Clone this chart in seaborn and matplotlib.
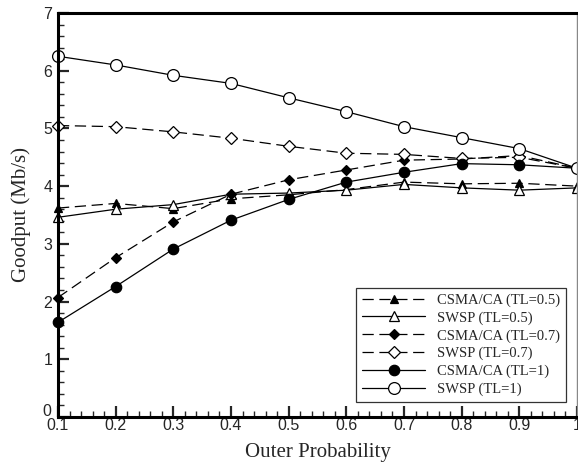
import numpy as np
import pandas as pd
import seaborn as sns
import matplotlib
matplotlib.use("Agg")
import matplotlib.pyplot as plt
from matplotlib.ticker import MultipleLocator, FormatStrFormatter
from matplotlib.transforms import ScaledTranslation

sns.set_style("ticks")

outer_prob = [0.1, 0.2, 0.3, 0.4, 0.5, 0.6, 0.7, 0.8, 0.9, 1.0]
csma_05 = [3.62, 3.70, 3.61, 3.78, 3.85, 3.94, 4.07, 4.04, 4.05, 4.00]
swsp_05 = [3.46, 3.60, 3.68, 3.86, 3.88, 3.93, 4.03, 3.97, 3.93, 3.97]
csma_07 = [2.07, 2.76, 3.38, 3.86, 4.11, 4.28, 4.45, 4.47, 4.53, 4.31]
swsp_07 = [5.05, 5.03, 4.94, 4.83, 4.69, 4.57, 4.55, 4.48, 4.50, 4.31]
csma_1 = [1.64, 2.26, 2.91, 3.41, 3.77, 4.07, 4.24, 4.39, 4.37, 4.31]
swsp_1 = [6.25, 6.10, 5.92, 5.78, 5.53, 5.29, 5.03, 4.84, 4.65, 4.31]

labels = ["CSMA/CA (TL=0.5)", "SWSP (TL=0.5)", "CSMA/CA (TL=0.7)",
          "SWSP (TL=0.7)", "CSMA/CA (TL=1)", "SWSP (TL=1)"]
series = [csma_05, swsp_05, csma_07, swsp_07, csma_1, swsp_1]

dash = (0, (9, 4.5))
styles = [
    dict(marker="^", ls=dash, mfc="black", ms=6),
    dict(marker="^", ls="-", mfc="white", ms=7),
    dict(marker="D", ls=dash, mfc="black", ms=5),
    dict(marker="D", ls=dash, mfc="white", ms=6),
    dict(marker="o", ls="-", mfc="black", ms=7.5),
    dict(marker="o", ls="-", mfc="white", ms=8.5),
]

fig = plt.figure(figsize=(5.78, 4.69), dpi=100)
ax = fig.add_axes([0.1003, 0.1109, 0.8980, 0.8614])

for lab, vals, st in zip(labels, series, styles):
    df = pd.DataFrame({"x": outer_prob, "y": vals})
    sns.lineplot(data=df, x="x", y="y", ax=ax, color="black", lw=0.9,
                 linestyle=st["ls"], marker=st["marker"], markersize=st["ms"],
                 markerfacecolor=st["mfc"], markeredgecolor="black",
                 markeredgewidth=0.9, label=lab, clip_on=False)

ax.set_xlim(0.1, 1.0)
ax.set_ylim(0, 7)
ax.xaxis.set_major_locator(MultipleLocator(0.1))
ax.xaxis.set_minor_locator(MultipleLocator(0.02))
ax.yaxis.set_major_locator(MultipleLocator(1))
ax.yaxis.set_minor_locator(MultipleLocator(0.2))

def xfmt(v, pos):
    if abs(v - 1.0) < 1e-9:
        return "1"
    return f"{v:.1f}"
ax.xaxis.set_major_formatter(matplotlib.ticker.FuncFormatter(xfmt))
ax.yaxis.set_major_formatter(FormatStrFormatter("%d"))

for s in ["left", "bottom", "top"]:
    ax.spines[s].set_linewidth(2.2)
    ax.spines[s].set_color("black")
ax.spines["right"].set_linewidth(1.0)
ax.spines["right"].set_color("#888888")

ax.tick_params(which="major", direction="in", length=8, width=1.6,
               top=False, right=False, labelsize=11.5)
ax.tick_params(axis="x", which="major", pad=1)
ax.tick_params(axis="y", which="major", pad=4)
ax.tick_params(which="minor", direction="in", length=4, width=1.0,
               top=False, right=False)
for lbl in ax.get_xticklabels() + ax.get_yticklabels():
    lbl.set_family("Liberation Sans")

fig.canvas.draw()
ylabels = ax.get_yticklabels()
for lbl in ylabels:
    if lbl.get_text() == "0":
        lbl.set_transform(lbl.get_transform() +
                          ScaledTranslation(-1 / 72, 5 / 72, fig.dpi_scale_trans))

ax.set_xlabel("Outer Probability", family="Liberation Serif", fontsize=15, labelpad=7)
ax.set_ylabel("Goodput (Mb/s)", family="Liberation Serif", fontsize=15, labelpad=8)

leg = ax.legend(loc="lower right", bbox_to_anchor=(0.978, 0.037),
                prop={"family": "Liberation Serif", "size": 10.5},
                frameon=True, fancybox=False, edgecolor="black",
                handlelength=4.3, handletextpad=0.8, borderpad=0.4,
                labelspacing=0.3, borderaxespad=0)
leg.get_frame().set_linewidth(0.9)

fig.savefig("out.png", dpi=100)
